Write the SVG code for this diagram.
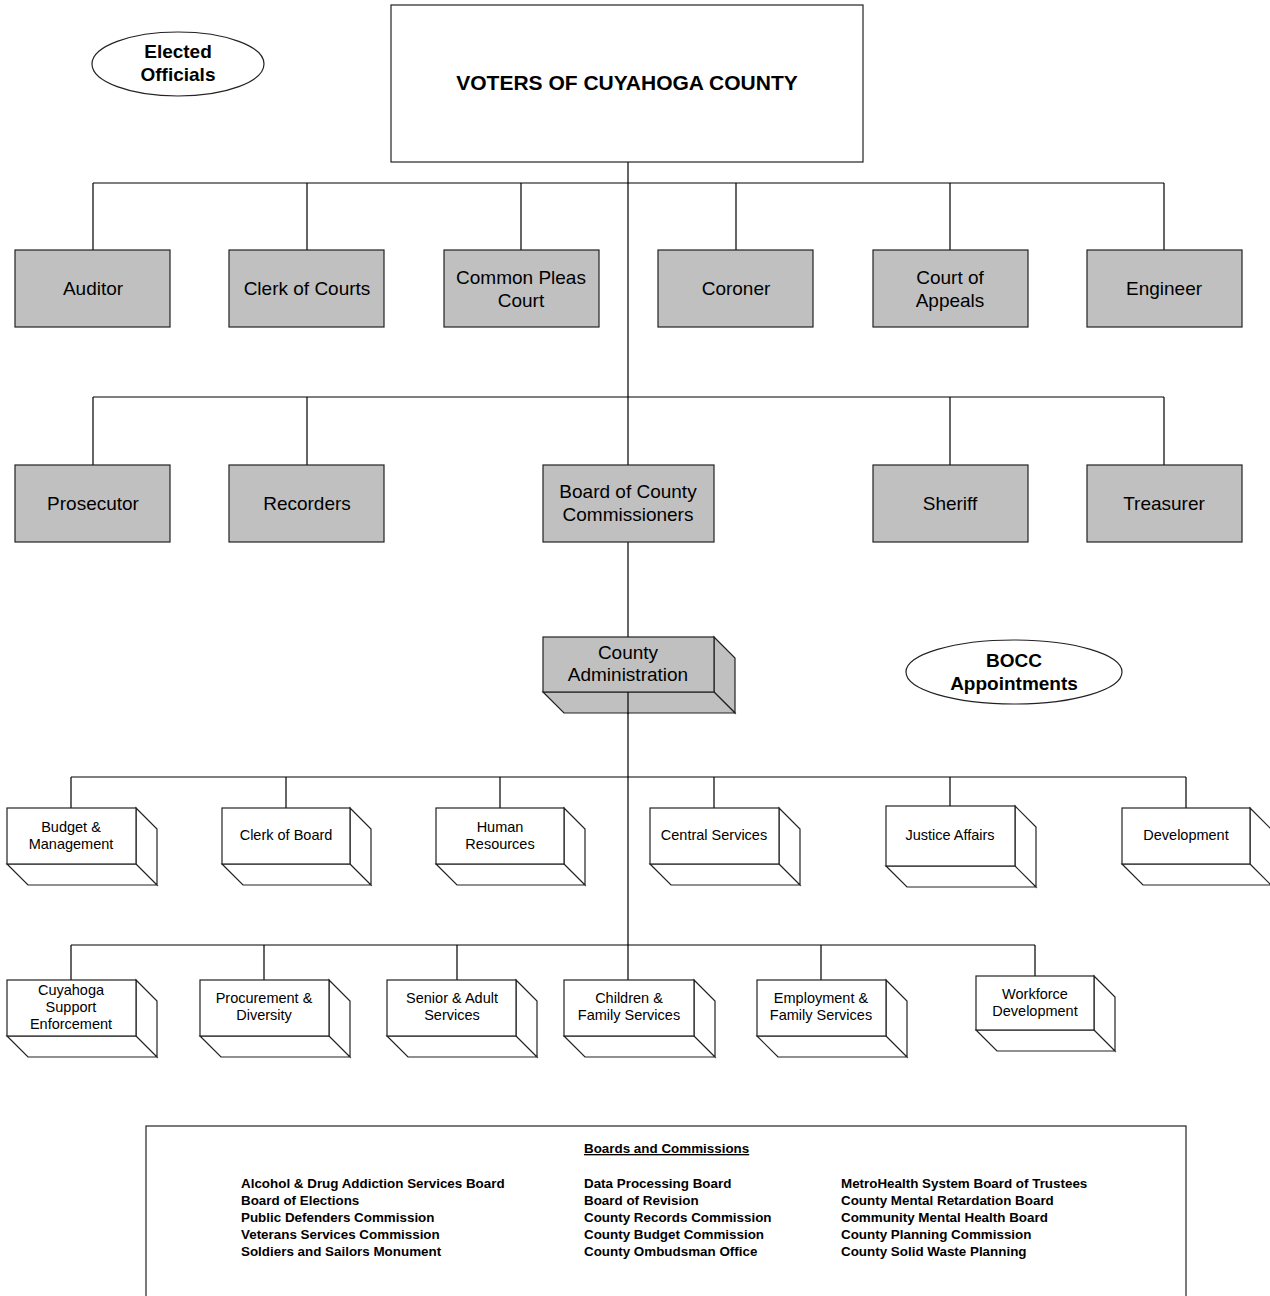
<svg xmlns="http://www.w3.org/2000/svg" width="1270" height="1296" viewBox="0 0 1270 1296">
<style>
.ln{stroke:#000;stroke-width:1.2;fill:none}
.gb{fill:#c0c0c0;stroke:#222;stroke-width:1.2}
.wb{fill:#fff;stroke:#222;stroke-width:1.2}
.t18{font-family:"Liberation Sans",Arial,sans-serif;font-size:19px;fill:#000;text-anchor:middle}
.t17{font-family:"Liberation Sans",Arial,sans-serif;font-size:19px;fill:#000;text-anchor:middle}
.t13{font-family:"Liberation Sans",Arial,sans-serif;font-size:14.5px;fill:#000;text-anchor:middle}
.tb{font-family:"Liberation Sans",Arial,sans-serif;font-size:19px;font-weight:bold;fill:#000;text-anchor:middle}
.tl{font-family:"Liberation Sans",Arial,sans-serif;font-size:13.4px;font-weight:bold;fill:#000}
</style>
<rect width="1270" height="1296" fill="#fff"/>
<g id="connectors">
<path class="ln" d="M628 162V465M628 542V637M628 692V980"/>
<path class="ln" d="M93 183H1164M93 183V250M307 183V250M521 183V250M736 183V250M950 183V250M1164 183V250"/>
<path class="ln" d="M93 397H1164M93 397V465M307 397V465M950 397V465M1164 397V465"/>
<path class="ln" d="M71 777H1186M71 777V808M286 777V808M500 777V808M714 777V808M950 777V806M1186 777V808"/>
<path class="ln" d="M71 945H1035M71 945V980M264 945V980M457 945V980M821 945V980M1035 945V976"/>
</g>
<g id="voters"><rect class="wb" x="391" y="5" width="472" height="157"/><text class="tb" x="627" y="90" style="font-size:21px">VOTERS OF CUYAHOGA COUNTY</text></g>
<g id="elected-officials"><ellipse class="wb" cx="178" cy="64" rx="86" ry="32"/><text class="tb" x="178" y="58">Elected</text><text class="tb" x="178" y="81">Officials</text></g>
<g id="auditor"><rect class="gb" x="15" y="250" width="155" height="77"/><text class="t18" x="93" y="295">Auditor</text></g>
<g id="clerk-of-courts"><rect class="gb" x="229" y="250" width="155" height="77"/><text class="t18" x="307" y="295">Clerk of Courts</text></g>
<g id="common-pleas-court"><rect class="gb" x="444" y="250" width="155" height="77"/><text class="t18" x="521" y="284">Common Pleas</text><text class="t18" x="521" y="307">Court</text></g>
<g id="coroner"><rect class="gb" x="658" y="250" width="155" height="77"/><text class="t18" x="736" y="295">Coroner</text></g>
<g id="court-of-appeals"><rect class="gb" x="873" y="250" width="155" height="77"/><text class="t18" x="950" y="284">Court of</text><text class="t18" x="950" y="307">Appeals</text></g>
<g id="engineer"><rect class="gb" x="1087" y="250" width="155" height="77"/><text class="t18" x="1164" y="295">Engineer</text></g>
<g id="prosecutor"><rect class="gb" x="15" y="465" width="155" height="77"/><text class="t18" x="93" y="510">Prosecutor</text></g>
<g id="recorders"><rect class="gb" x="229" y="465" width="155" height="77"/><text class="t18" x="307" y="510">Recorders</text></g>
<g id="bocc"><rect class="gb" x="543" y="465" width="171" height="77"/><text class="t18" x="628" y="498">Board of County</text><text class="t18" x="628" y="521">Commissioners</text></g>
<g id="sheriff"><rect class="gb" x="873" y="465" width="155" height="77"/><text class="t18" x="950" y="510">Sheriff</text></g>
<g id="treasurer"><rect class="gb" x="1087" y="465" width="155" height="77"/><text class="t18" x="1164" y="510">Treasurer</text></g>
<g id="county-administration">
<path class="gb" d="M714 637L735 658V713L714 692Z"/>
<path class="gb" d="M543 692H714L735 713H564Z"/>
<line class="ln" x1="628" y1="692" x2="628" y2="714"/>
<rect class="gb" x="543" y="637" width="171" height="55"/>
<text class="t17" x="628" y="659">County</text><text class="t17" x="628" y="681">Administration</text>
</g>
<g id="bocc-appointments"><ellipse class="wb" cx="1014" cy="672" rx="108" ry="32"/><text class="tb" x="1014" y="667">BOCC</text><text class="tb" x="1014" y="690">Appointments</text></g>
<g id="budget-management"><path class="wb" d="M136 808L157 829V885L136 864Z M7 864H136L157 885H28Z"/><rect class="wb" x="7" y="808" width="129" height="56"/><text class="t13" x="71" y="832">Budget &amp;</text><text class="t13" x="71" y="849">Management</text></g>
<g id="clerk-of-board"><path class="wb" d="M350 808L371 829V885L350 864Z M222 864H350L371 885H243Z"/><rect class="wb" x="222" y="808" width="128" height="56"/><text class="t13" x="286" y="840">Clerk of Board</text></g>
<g id="human-resources"><path class="wb" d="M564 808L585 829V885L564 864Z M436 864H564L585 885H457Z"/><rect class="wb" x="436" y="808" width="128" height="56"/><text class="t13" x="500" y="832">Human</text><text class="t13" x="500" y="849">Resources</text></g>
<g id="central-services"><path class="wb" d="M779 808L800 829V885L779 864Z M650 864H779L800 885H671Z"/><rect class="wb" x="650" y="808" width="129" height="56"/><text class="t13" x="714" y="840">Central Services</text></g>
<g id="justice-affairs"><path class="wb" d="M1015 806L1036 827V887L1015 866Z M886 866H1015L1036 887H907Z"/><rect class="wb" x="886" y="806" width="129" height="60"/><text class="t13" x="950" y="840">Justice Affairs</text></g>
<g id="development"><path class="wb" d="M1250 808L1271 829V885L1250 864Z M1122 864H1250L1271 885H1143Z"/><rect class="wb" x="1122" y="808" width="128" height="56"/><text class="t13" x="1186" y="840">Development</text></g>
<g id="cuyahoga-support"><path class="wb" d="M136 980L157 1001V1057L136 1036Z M7 1036H136L157 1057H28Z"/><rect class="wb" x="7" y="980" width="129" height="56"/><text class="t13" x="71" y="995">Cuyahoga</text><text class="t13" x="71" y="1012">Support</text><text class="t13" x="71" y="1029">Enforcement</text></g>
<g id="procurement"><path class="wb" d="M329 980L350 1001V1057L329 1036Z M200 1036H329L350 1057H221Z"/><rect class="wb" x="200" y="980" width="129" height="56"/><text class="t13" x="264" y="1003">Procurement &amp;</text><text class="t13" x="264" y="1020">Diversity</text></g>
<g id="senior-adult"><path class="wb" d="M516 980L537 1001V1057L516 1036Z M387 1036H516L537 1057H408Z"/><rect class="wb" x="387" y="980" width="129" height="56"/><text class="t13" x="452" y="1003">Senior &amp; Adult</text><text class="t13" x="452" y="1020">Services</text></g>
<g id="children-family"><path class="wb" d="M694 980L715 1001V1057L694 1036Z M564 1036H694L715 1057H585Z"/><rect class="wb" x="564" y="980" width="130" height="56"/><text class="t13" x="629" y="1003">Children &amp;</text><text class="t13" x="629" y="1020">Family Services</text></g>
<g id="employment-family"><path class="wb" d="M886 980L907 1001V1057L886 1036Z M757 1036H886L907 1057H778Z"/><rect class="wb" x="757" y="980" width="129" height="56"/><text class="t13" x="821" y="1003">Employment &amp;</text><text class="t13" x="821" y="1020">Family Services</text></g>
<g id="workforce"><path class="wb" d="M1094 976L1115 997V1051L1094 1030Z M976 1030H1094L1115 1051H997Z"/><rect class="wb" x="976" y="976" width="118" height="54"/><text class="t13" x="1035" y="999">Workforce</text><text class="t13" x="1035" y="1016">Development</text></g>
<g id="boards-commissions">
<rect class="wb" x="146" y="1126" width="1040" height="180"/>
<text class="tl" x="584" y="1153" text-decoration="underline">Boards and Commissions</text>
<text class="tl" x="241" y="1188">Alcohol &amp; Drug Addiction Services Board</text>
<text class="tl" x="241" y="1205">Board of Elections</text>
<text class="tl" x="241" y="1222">Public Defenders Commission</text>
<text class="tl" x="241" y="1239">Veterans Services Commission</text>
<text class="tl" x="241" y="1256">Soldiers and Sailors Monument</text>
<text class="tl" x="584" y="1188">Data Processing Board</text>
<text class="tl" x="584" y="1205">Board of Revision</text>
<text class="tl" x="584" y="1222">County Records Commission</text>
<text class="tl" x="584" y="1239">County Budget Commission</text>
<text class="tl" x="584" y="1256">County Ombudsman Office</text>
<text class="tl" x="841" y="1188">MetroHealth System Board of Trustees</text>
<text class="tl" x="841" y="1205">County Mental Retardation Board</text>
<text class="tl" x="841" y="1222">Community Mental Health Board</text>
<text class="tl" x="841" y="1239">County Planning Commission</text>
<text class="tl" x="841" y="1256">County Solid Waste Planning</text>
</g>
</svg>
